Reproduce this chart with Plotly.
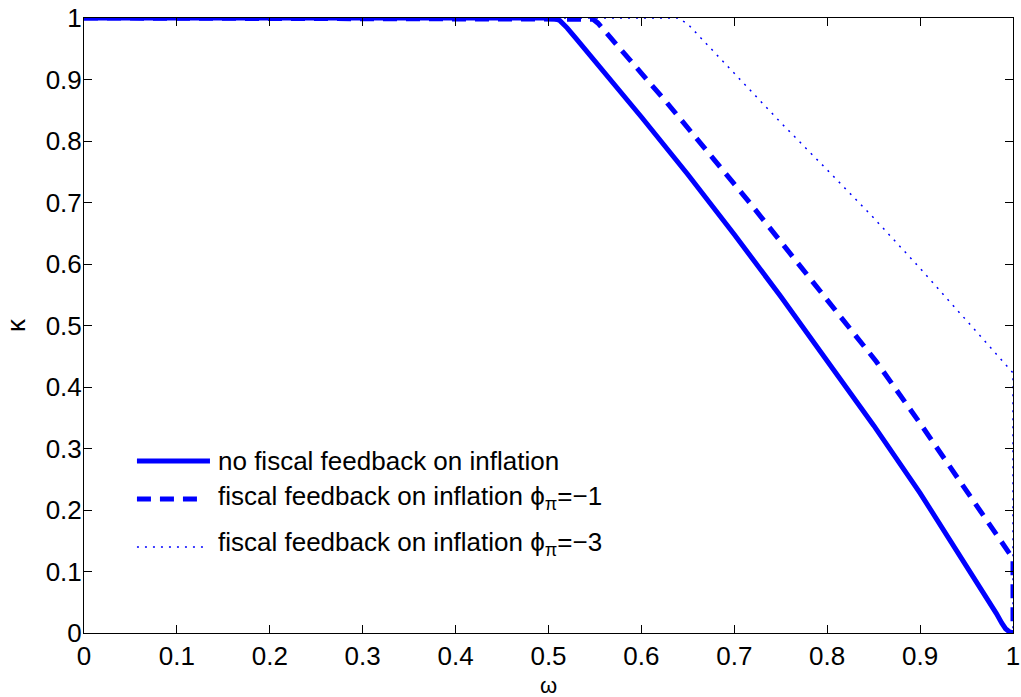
import plotly.graph_objects as go

# Data
omega_solid = [0.0, 0.505, 0.512, 0.52, 0.53, 0.545, 0.56, 0.58, 0.6, 0.65, 0.7, 0.75, 0.8, 0.85, 0.9, 0.95, 0.97, 0.982, 0.988, 0.992, 0.996, 1.0]
kappa_solid = [1.0, 1.0, 0.996, 0.984, 0.966, 0.939, 0.912, 0.876, 0.839, 0.7455, 0.648, 0.547, 0.4435, 0.3375, 0.2275, 0.11, 0.062, 0.032, 0.016, 0.007, 0.002, 0.0]

omega_dash = [0.0, 0.54, 0.548, 0.553, 0.571, 0.59, 0.6075, 0.6265, 0.7143, 0.79, 0.853, 0.9, 0.95, 0.996, 1.0, 1.0]
kappa_dash = [1.0, 1.0, 0.998, 0.992, 0.961, 0.928, 0.899, 0.864, 0.704, 0.56, 0.441, 0.341, 0.232, 0.13, 0.121, 0.0]

omega_dot = [0.0, 0.64, 0.65, 0.7, 0.75, 0.8, 0.85, 0.9, 0.95, 1.0, 1.0]
kappa_dot = [1.0, 1.0, 0.99, 0.91, 0.83, 0.753, 0.675, 0.593, 0.508, 0.423, 0.0]

legend_labels = [
    "no fiscal feedback on inflation",
    "fiscal feedback on inflation ϕ<sub>π</sub>=−1",
    "fiscal feedback on inflation ϕ<sub>π</sub>=−3",
]

x_ticks = [round(i * 0.1, 1) for i in range(11)]
y_ticks = [round(i * 0.1, 1) for i in range(11)]
x_title = "ω"
y_title = "κ"

BLUE = "#0000ff"
FONT = "Liberation Sans, Arial, sans-serif"
FS = 26

fig = go.Figure()
fig.add_trace(go.Scatter(x=omega_solid, y=kappa_solid, mode="lines",
                         line=dict(color=BLUE, width=5), name=legend_labels[0], showlegend=False))
fig.add_trace(go.Scatter(x=omega_dash, y=kappa_dash, mode="lines",
                         line=dict(color=BLUE, width=5, dash="14px,9px"), name=legend_labels[1], showlegend=False))
fig.add_trace(go.Scatter(x=omega_dot, y=kappa_dot, mode="lines",
                         line=dict(color=BLUE, width=1.5, dash="2px,6px"), name=legend_labels[2], showlegend=False))

# custom legend (no box), matching MATLAB style
legend_rows = [
    (0.2797, 0.2797, dict(color=BLUE, width=5), 0.1356),
    (0.2179, 0.2211, dict(color=BLUE, width=5, dash="14px,9px"), 0.128),
    (0.1398, 0.1463, dict(color=BLUE, width=1.5, dash="2px,6px"), 0.132),
]
for (ys, yt, ln, xe), lab in zip(legend_rows, legend_labels):
    fig.add_shape(type="line", xref="paper", yref="paper", x0=0.057, x1=xe, y0=ys, y1=ys, line=ln)
    fig.add_annotation(xref="paper", yref="paper", x=0.142, y=yt, text=lab, showarrow=False,
                       xanchor="left", yanchor="middle", font=dict(size=FS, color="black", family=FONT))

# x-axis title placed like MATLAB's xlabel
fig.add_annotation(xref="paper", yref="paper", x=0.5, y=-0.0846, text=x_title, showarrow=False,
                   xanchor="center", yanchor="middle", font=dict(size=22, color="black", family=FONT))

axis_common = dict(
    showgrid=False, zeroline=False, showline=True, linecolor="black", linewidth=1,
    mirror="ticks", ticks="inside", ticklen=8, tickwidth=1, tickcolor="black",
    tickfont=dict(size=FS, color="black", family=FONT), automargin=False,
)
fig.update_xaxes(range=[0, 1], tickvals=x_ticks, ticktext=[("%g" % v) for v in x_ticks],
                 **axis_common)
fig.update_yaxes(range=[0, 1], tickvals=y_ticks, ticktext=[("%g" % v) for v in y_ticks],
                 title=dict(text=y_title, font=dict(size=FS, color="black", family=FONT), standoff=12),
                 ticklabelstandoff=-4, **axis_common)

fig.update_layout(
    width=1021, height=697,
    margin=dict(l=84, r=8, t=18, b=64),
    paper_bgcolor="white", plot_bgcolor="white",
    font=dict(family=FONT, color="black"),
)

fig.write_html("out.html", config={"displayModeBar": False},
               post_script="document.body.style.margin='0';document.body.style.overflow='hidden';")
